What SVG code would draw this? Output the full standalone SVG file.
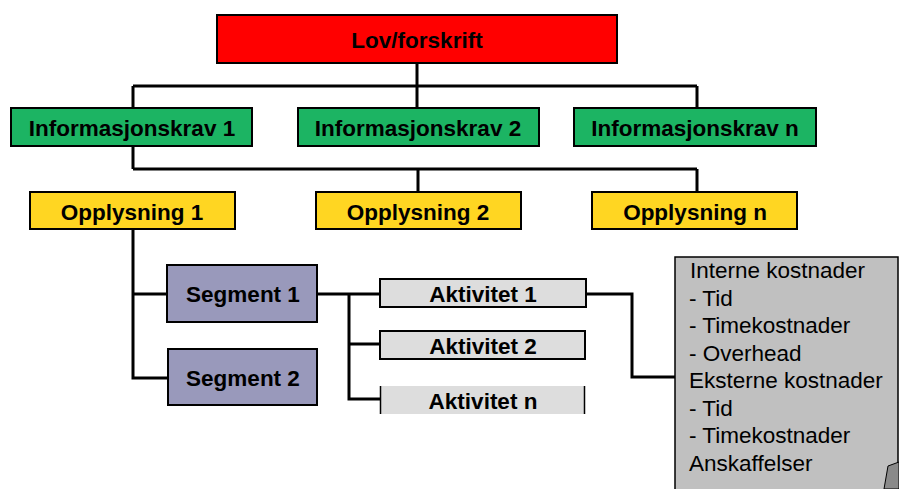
<svg xmlns="http://www.w3.org/2000/svg" width="899" height="489" viewBox="0 0 899 489">
<style>
.box{stroke:#000;stroke-width:2}
.lbl{font-family:"Liberation Sans",Arial,sans-serif;font-weight:bold;font-size:22.5px;fill:#000;text-anchor:middle}
.note{font-family:"Liberation Sans",Arial,sans-serif;font-size:22.5px;fill:#000}
.conn{fill:none;stroke:#000;stroke-width:3}
</style>
<rect width="899" height="489" fill="#fff"/>
<g id="connectors" class="conn">
<path d="M417 63V86M133 86H697M133 86V108M417 86V108M697 86V108"/>
<path d="M133 146V169M133 169H697M418 169V192M697 169V192"/>
<path d="M133 229V378H168M133 294H167"/>
<path d="M317 294H380M349 294V399H380M349 344H380"/>
<path d="M586 294H632V377H676"/>
</g>
<g id="lov"><rect class="box" x="217" y="15" width="400" height="48" fill="#ff0000"/><text class="lbl" x="417" y="48">Lov/forskrift</text></g>
<g id="info1"><rect class="box" x="11" y="108" width="241" height="38" fill="#1cb463"/><text class="lbl" x="132" y="136">Informasjonskrav 1</text></g>
<g id="info2"><rect class="box" x="298" y="108" width="241" height="38" fill="#1cb463"/><text class="lbl" x="418" y="136">Informasjonskrav 2</text></g>
<g id="infon"><rect class="box" x="574" y="108" width="242" height="38" fill="#1cb463"/><text class="lbl" x="695" y="136">Informasjonskrav n</text></g>
<g id="opp1"><rect class="box" x="30" y="192" width="205" height="37" fill="#ffd622"/><text class="lbl" x="132" y="220">Opplysning 1</text></g>
<g id="opp2"><rect class="box" x="316" y="192" width="205" height="37" fill="#ffd622"/><text class="lbl" x="418" y="220">Opplysning 2</text></g>
<g id="oppn"><rect class="box" x="592" y="192" width="205" height="37" fill="#ffd622"/><text class="lbl" x="695" y="220">Opplysning n</text></g>
<g id="seg1"><rect class="box" x="167" y="265" width="150" height="57" fill="#9999bb"/><text class="lbl" x="243" y="302">Segment 1</text></g>
<g id="seg2"><rect class="box" x="168" y="349" width="149" height="56" fill="#9999bb"/><text class="lbl" x="243" y="386">Segment 2</text></g>
<g id="akt1"><rect class="box" x="380" y="279" width="206" height="28" fill="#dddddd" stroke-width="1.5"/><text class="lbl" x="483" y="302">Aktivitet 1</text></g>
<g id="akt2"><rect class="box" x="380" y="331" width="205" height="28" fill="#dddddd" stroke-width="1.5"/><text class="lbl" x="483" y="354">Aktivitet 2</text></g>
<g id="aktn"><rect x="380" y="386" width="205" height="28" fill="#dddddd"/><path d="M380.5 386V414M584.5 386V414" stroke="#000" stroke-width="1.5"/><text class="lbl" x="483" y="409">Aktivitet n</text></g>
<g id="kostnader">
<rect x="675" y="257" width="223" height="240" fill="#c0c0c0" stroke="#000" stroke-width="1.5"/>
<path d="M884 489L888 466L899 462V489Z" fill="#8a8a8a" stroke="#000" stroke-width="1"/>
<text class="note" x="690" y="278">Interne kostnader</text>
<text class="note" x="689" y="305.5">- Tid</text>
<text class="note" x="689" y="333">- Timekostnader</text>
<text class="note" x="689" y="360.5">- Overhead</text>
<text class="note" x="689" y="388">Eksterne kostnader</text>
<text class="note" x="689" y="415.5">- Tid</text>
<text class="note" x="689" y="443">- Timekostnader</text>
<text class="note" x="689" y="470.5">Anskaffelser</text>
</g>
</svg>
